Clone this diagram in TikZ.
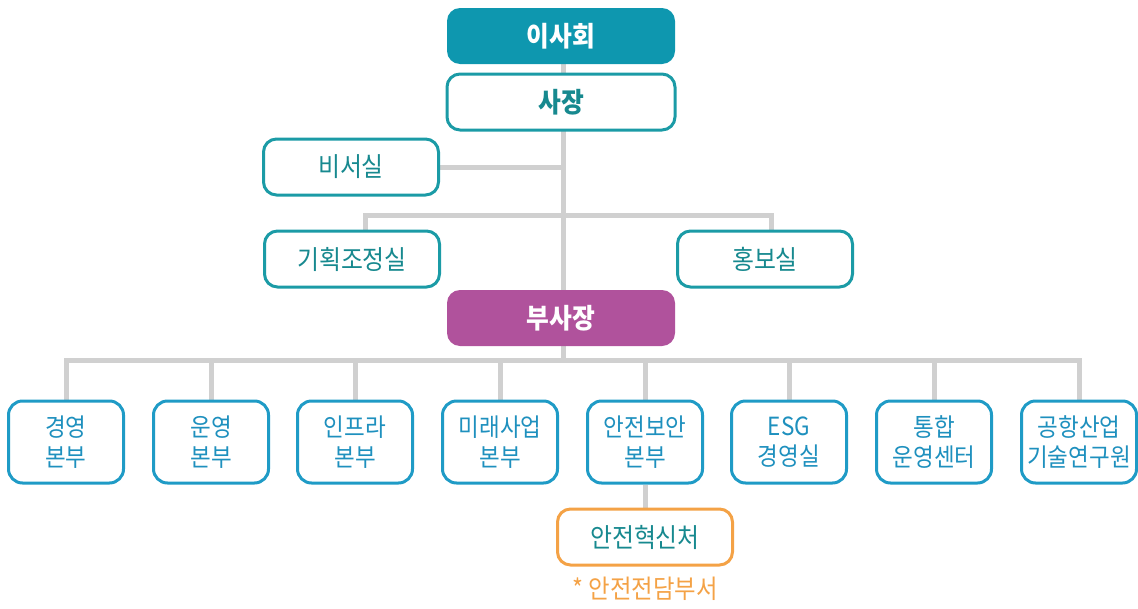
\documentclass[tikz,border=0pt]{standalone}
\usepackage{fontspec}
\setmainfont{Noto Sans CJK KR}[FakeStretch=0.9]
\usetikzlibrary{backgrounds}
\definecolor{tealfill}{HTML}{0E97AF}
\definecolor{tealline}{HTML}{1B9BA6}
\definecolor{tealtext}{HTML}{17898F}
\definecolor{blueline}{HTML}{1F9BC6}
\definecolor{bluetext}{HTML}{1E90BE}
\definecolor{purplefill}{HTML}{B0529C}
\definecolor{orangeline}{HTML}{F4A246}
\definecolor{conn}{HTML}{D0D0D0}
\tikzset{
  topbox/.style={draw=tealline, line width=3pt, rounded corners=13pt, fill=white,
    minimum width=175pt, minimum height=56pt, text=tealtext, font=\fontsize{26.5}{30}\selectfont},
  headbox/.style={rounded corners=13pt, minimum width=228pt, minimum height=56pt,
    text=white, font=\fontsize{27.5}{30}\selectfont\bfseries},
  unitbox/.style={draw=blueline, line width=3pt, rounded corners=14pt, fill=white,
    minimum width=115pt, minimum height=82pt, text=bluetext, align=center,
    font=\fontsize{25}{30}\selectfont},
  link/.style={draw=conn, line width=5pt},
}
\begin{document}
\begin{tikzpicture}[x=1pt,y=-1pt]
\useasboundingbox (0,0) rectangle (1138,608);
\node[headbox, fill=tealfill] (board) at (561,36) {이사회};
\node[headbox, fill=white, draw=tealline, line width=3pt, text=tealtext] (ceo) at (561,102) {사장};
\node[topbox] (sec) at (351,167) {비서실};
\node[topbox] (plan) at (352,259) {기획조정실};
\node[topbox] (pr) at (765,259) {홍보실};
\node[headbox, fill=purplefill] (vp) at (561,318) {부사장};
\coordinate (midA) at (563,215);
\coordinate (midB) at (563,360);
\node[unitbox] (u1) at (66,442) {경영\\본부};
\node[unitbox] (u2) at (211,442) {운영\\본부};
\node[unitbox] (u3) at (355,442) {인프라\\본부};
\node[unitbox] (u4) at (500,442) {미래사업\\본부};
\node[unitbox] (u5) at (645,442) {안전보안\\본부};
\node[unitbox] (u6) at (789,442) {ESG\\경영실};
\node[unitbox] (u7) at (934,442) {통합\\운영센터};
\node[unitbox] (u8) at (1079,442) {공항산업\\기술연구원};
\node[topbox, draw=orangeline] (safe) at (645,537) {안전혁신처};
\node[text=orangeline, font=\fontsize{26}{28}\selectfont] (note) at (645,589) {* 안전전담부서};
\begin{scope}[on background layer]
\draw[link] (board.south -| midA) -- (vp.north -| midA);
\draw[link] (sec.east) -- (sec.east -| midA);
\draw[link] (plan.north -| 365,0) |- (midA) -| (pr.north -| 771,0);
\draw[link] (vp.south -| midB) -- (midB);
\draw[link] (u1.north) |- (midB) -| (u8.north);
\foreach \u in {u2,u3,u4,u5,u6,u7} \draw[link] (\u.north) -- (\u.north |- midB);
\draw[link] (u5.south) -- (safe.north);
\end{scope}
\end{tikzpicture}
\end{document}
